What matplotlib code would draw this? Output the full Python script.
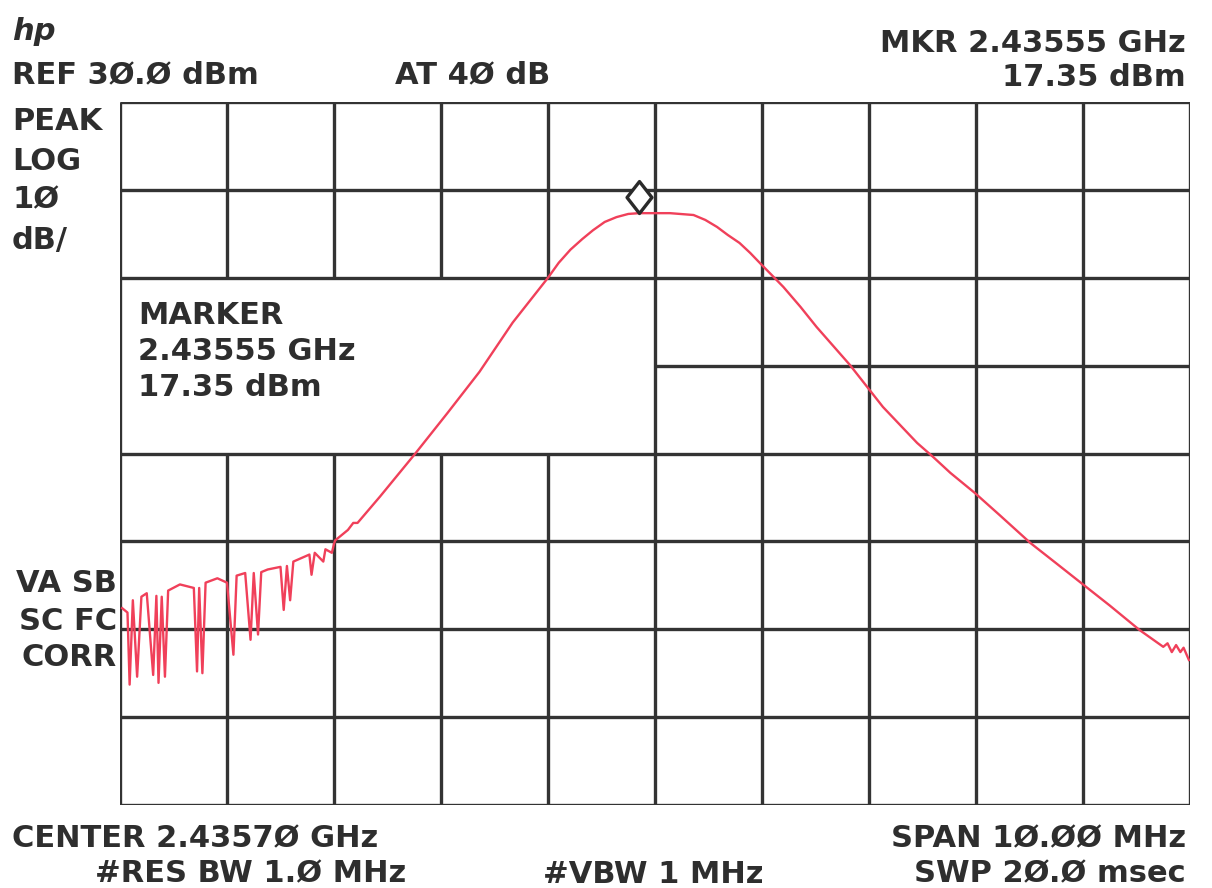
"""
HP spectrum analyser plot: 2.4357 GHz centre, 10 MHz span, 10 dB/div, REF 30 dBm.
"""

import matplotlib.pyplot as plt
from matplotlib.path import Path

# ---------------------------------------------------------------------
# Trace readings (frequency in MHz, level in dBm)
# ---------------------------------------------------------------------
freq_mhz = [
    2430.72, 2430.77, 2430.79, 2430.82, 2430.86, 2430.90, 2430.95, 2431.01,
    2431.04, 2431.06, 2431.09, 2431.12, 2431.15, 2431.26, 2431.39, 2431.42,
    2431.44, 2431.47, 2431.50, 2431.61, 2431.70, 2431.76, 2431.79, 2431.87,
    2431.92, 2431.95, 2431.99, 2432.02, 2432.08, 2432.20, 2432.23, 2432.26,
    2432.29, 2432.32, 2432.47, 2432.49, 2432.52, 2432.60, 2432.62, 2432.68,
    2432.70, 2432.71, 2432.83, 2432.88, 2432.92, 2433.13, 2433.46, 2433.76,
    2434.06, 2434.37, 2434.70, 2434.80, 2434.91, 2435.02, 2435.12, 2435.23,
    2435.34, 2435.45, 2435.55, 2435.70, 2435.84, 2436.06, 2436.17, 2436.28,
    2436.38, 2436.49, 2436.59, 2436.68, 2436.79, 2436.90, 2437.06, 2437.21,
    2437.52, 2437.83, 2438.15, 2438.30, 2438.46, 2438.69, 2438.92, 2439.21,
    2439.44, 2439.70, 2439.95, 2440.23, 2440.45, 2440.49, 2440.53, 2440.57,
    2440.61, 2440.64, 2440.69,
]
level_dbm = [
    -27.6, -28.1, -36.3, -26.7, -35.4, -26.3, -25.9, -35.2,
    -26.2, -36.1, -26.3, -35.4, -25.6, -24.9, -25.3, -34.8,
    -25.3, -35.0, -24.7, -24.2, -24.7, -32.9, -23.9, -23.6,
    -31.2, -23.6, -30.6, -23.5, -23.2, -22.9, -27.8, -22.8,
    -26.7, -22.3, -21.5, -23.8, -21.3, -22.3, -20.9, -21.3,
    -20.3, -19.9, -18.7, -17.9, -17.9, -14.9, -10.0, -5.4,
    -0.7, 4.9, 10.0, 11.7, 13.2, 14.4, 15.4, 16.35,
    16.9, 17.26, 17.35, 17.35, 17.35, 17.14, 16.58, 15.78,
    14.87, 13.96, 12.82, 11.68, 10.32, 8.95, 6.68, 4.4,
    0.1, -4.7, -8.8, -10.4, -12.2, -14.5, -17.0, -20.2,
    -22.4, -24.9, -27.3, -30.1, -32.0, -31.6, -32.6, -31.8,
    -32.6, -32.1, -33.5,
]

marker_freq = 2435.55
marker_level = 17.35

center_mhz = 2435.70
span_mhz = 10.0
ref_dbm = 30.0
db_per_div = 10.0
n_xdiv, n_ydiv = 10, 8

f_lo = center_mhz - span_mhz / 2
f_hi = center_mhz + span_mhz / 2
y_top = ref_dbm
y_bot = ref_dbm - n_ydiv * db_per_div

# ---------------------------------------------------------------------
W, H = 1212, 888
fig = plt.figure(figsize=(W / 100, H / 100), dpi=100)
ax = fig.add_axes([120 / W, 1 - 805 / H, (1190 - 120) / W, (805 - 102) / H])
ax.set_xlim(f_lo, f_hi)
ax.set_ylim(y_bot, y_top)
ax.set_xticks([])
ax.set_yticks([])
for sp in ax.spines.values():
    sp.set_visible(False)

grid_kw = dict(color='#333333', linewidth=2.4, zorder=1)

# the marker readout box (left half, 10..-10 dBm) is blanked out of the graticule
box_f0, box_f1 = f_lo, center_mhz
box_y0, box_y1 = -10.0, 10.0

for i in range(n_xdiv + 1):
    f = f_lo + i * span_mhz / n_xdiv
    if box_f0 < f < box_f1 - 1e-9:
        ax.vlines(f, box_y1, y_top, **grid_kw)
        ax.vlines(f, y_bot, box_y0, **grid_kw)
    else:
        ax.vlines(f, y_bot, y_top, **grid_kw)

for j in range(n_ydiv + 1):
    lvl = y_top - j * db_per_div
    if box_y0 < lvl < box_y1:
        ax.hlines(lvl, box_f1, f_hi, **grid_kw)
    else:
        ax.hlines(lvl, f_lo, f_hi, **grid_kw)

# trace
ax.plot(freq_mhz, level_dbm, color='#f0405a', linewidth=1.7, zorder=3)

# diamond marker sitting on the peak
diamond = Path([(0, 0), (0.39, 0.5), (0, 1), (-0.39, 0.5), (0, 0)],
               [Path.MOVETO, Path.LINETO, Path.LINETO, Path.LINETO, Path.CLOSEPOLY])
ax.plot([marker_freq], [marker_level], marker=diamond, markersize=46,
        markerfacecolor='white', markeredgecolor='#2a2a2a', markeredgewidth=2.4,
        linestyle='none', zorder=4, clip_on=False)

# ---------------------------------------------------------------------
# annotation text
# ---------------------------------------------------------------------
txt_kw = dict(family='DejaVu Sans', fontweight='bold', fontsize=22,
              color='#2e2e2e', va='center')


def put(x, y, s, ha='left'):
    fig.text(x / W, 1 - y / H, s, ha=ha, **txt_kw)


fig.text(12 / W, 1 - 32 / H, 'hp', family='DejaVu Sans', fontweight='bold',
         fontstyle='italic', fontsize=22, color='#2e2e2e', va='center')

put(12, 75, 'REF 3Ø.Ø dBm')
put(395, 75, 'AT 4Ø dB')
put(1186, 43, 'MKR 2.43555 GHz', ha='right')
put(1186, 78, '17.35 dBm', ha='right')

put(12, 121, 'PEAK')
put(12, 161, 'LOG')
put(12, 200, '1Ø')
put(12, 240, 'dB/')

put(117, 583, 'VA SB', ha='right')
put(117, 621, 'SC FC', ha='right')
put(117, 658, 'CORR', ha='right')

put(138, 315, 'MARKER')
put(138, 351, f'{marker_freq / 1000:.5f} GHz')
put(138, 387, f'{marker_level:.2f} dBm')

put(12, 839, 'CENTER 2.4357Ø GHz')
put(95, 874, '#RES BW 1.Ø MHz')
put(543, 874, '#VBW 1 MHz')
put(1186, 839, 'SPAN 1Ø.ØØ MHz', ha='right')
put(1186, 874, 'SWP 2Ø.Ø msec', ha='right')

fig.savefig('out.png', dpi=100, facecolor='white')
